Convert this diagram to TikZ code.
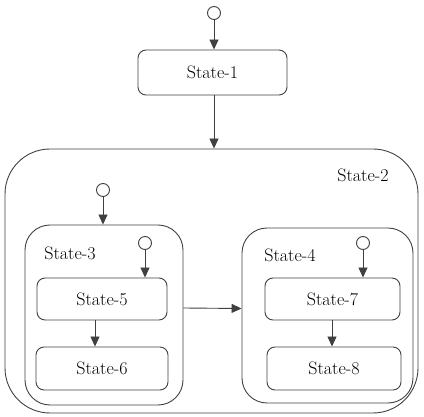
\documentclass[tikz,border=0pt]{standalone}
\usetikzlibrary{arrows.meta,calc}
\begin{document}
\begin{tikzpicture}[x=1pt,y=-1pt,
  line width=0.9pt,
  every node/.style={font=\fontsize{18}{21}\selectfont},
  lc/.style={draw=black!75},
  smallbox/.style={lc,rectangle,rounded corners=8pt,inner sep=0pt},
  init/.style={lc,circle,fill=white,minimum size=13pt,inner sep=0pt},
  arr/.style={lc,-{Triangle[length=10pt,width=9pt]}},
  lbl/.style={inner sep=0pt,text=black}]
\useasboundingbox (0,0) rectangle (424,417);
% State-2 outer
\node[lc,rectangle,rounded corners=45pt,minimum width=413pt,minimum height=264pt,inner sep=0pt] (S2) at (211.5,281) {};
\node[lbl] (S2l) at (363,175) {State-2};
% State-1
\node[smallbox,minimum width=149pt,minimum height=45pt] (S1) at (212.5,72.5) {State-1};
\node[init] (i1) at (214,13) {};
% State-3
\node[lc,rectangle,rounded corners=25pt,minimum width=158pt,minimum height=180pt,inner sep=0pt] (S3) at (104,315) {};
\node[lbl] (S3l) at (70,253) {State-3};
\node[init] (i2) at (103,190) {};
\node[init] (i3) at (145,243) {};
\node[smallbox,minimum width=130pt,minimum height=42pt] (S5) at (102,299) {State-5};
\node[smallbox,minimum width=132pt,minimum height=43pt] (S6) at (102,368.5) {State-6};
% State-4
\node[lc,rectangle,rounded corners=25pt,minimum width=171pt,minimum height=175pt,inner sep=0pt] (S4) at (327.5,315.5) {};
\node[lbl] (S4l) at (290,255) {State-4};
\node[init] (i4) at (363,243) {};
\node[smallbox,minimum width=135pt,minimum height=42pt] (S7) at (332.5,299) {State-7};
\node[smallbox,minimum width=134pt,minimum height=43pt] (S8) at (334,368.5) {State-8};
% connectors
\draw[arr] (i1) -- (i1 |- S1.north);
\draw[arr] (S1.south -| i1) -- (i1 |- S2.north);
\draw[arr] (i2) -- (i2 |- S3.north);
\draw[arr] (i3) -- (i3 |- S5.north);
\draw[arr] (i4) -- (i4 |- S7.north);
\coordinate (c5) at (95,0);
\draw[arr] (c5 |- S5.south) -- (c5 |- S6.north);
\coordinate (c7) at (332,0);
\draw[arr] (c7 |- S7.south) -- (c7 |- S8.north);
\draw[arr] ([yshift=7pt]S3.east) -- ([yshift=7pt]S4.west);
\end{tikzpicture}
\end{document}
